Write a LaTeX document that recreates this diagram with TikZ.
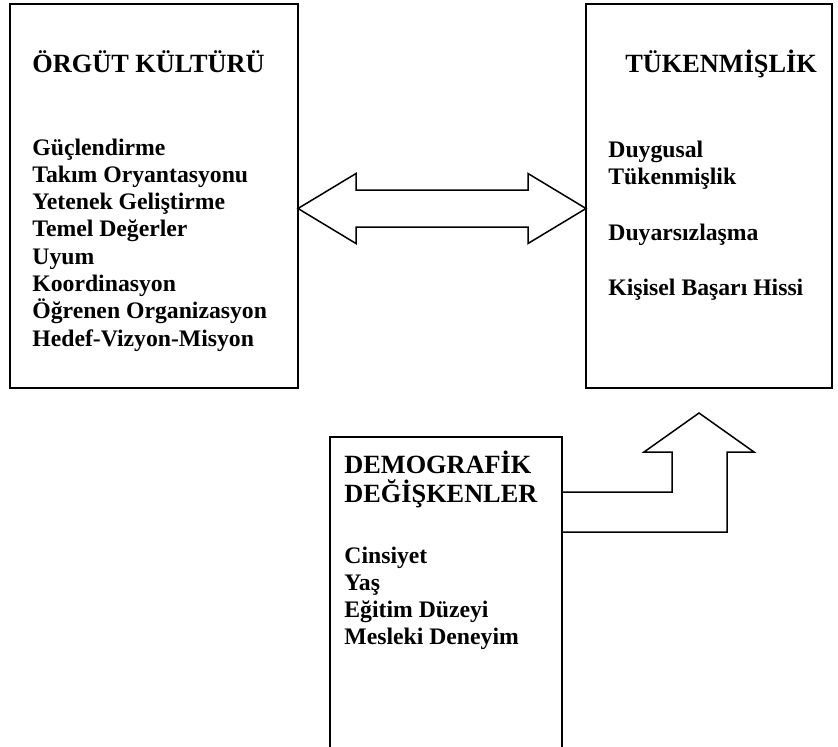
\documentclass[tikz,border=0pt]{standalone}
\usepackage{fontspec}
\setmainfont{Liberation Serif}
\newlength{\du}
\setlength{\du}{0.5pt}
\tikzset{
  kutu/.style={draw, line width=2\du, inner sep=0pt, outer sep=0pt, anchor=north west},
  yazi/.style={anchor=base west, inner sep=0pt, font=\bfseries\fontsize{11.85}{14}\selectfont},
  baslik/.style={anchor=base west, inner sep=0pt, font=\bfseries\fontsize{13.15}{16}\selectfont},
  blokok/.style={draw, line width=1.5\du, line join=miter},
}

\begin{document}
\begin{tikzpicture}
\pgftransformxscale{1.000000}
\pgftransformyscale{-1.000000}
\useasboundingbox (0\du,0\du) rectangle (838\du,746\du);
% orgut kulturu
\node[kutu, minimum width=288\du, minimum height=384\du] (kultur) at (10\du,4\du) {};
\node[baslik] (kulturBaslik) at (32\du,72\du) {ÖRGÜT KÜLTÜRÜ};
\foreach \ad [count=\i, evaluate=\i as \y using 155+(\i-1)*27.3] in
  {Güçlendirme, Takım Oryantasyonu, Yetenek Geliştirme, Temel Değerler,
   Uyum, Koordinasyon, Öğrenen Organizasyon, Hedef-Vizyon-Misyon}
  \node[yazi] (kultur-\i) at (32\du,\y\du) {\ad};
% tukenmislik
\node[kutu, minimum width=246\du, minimum height=384\du] (tukenme) at (586\du,4\du) {};
\node[baslik] (tukenmeBaslik) at (625\du,72\du) {TÜKENMİŞLİK};
\node[yazi] (tukenme-1) at (608\du,157\du) {Duygusal};
\node[yazi] (tukenme-2) at (608\du,184.7\du) {Tükenmişlik};
\node[yazi] (tukenme-3) at (608\du,240.1\du) {Duyarsızlaşma};
\node[yazi] (tukenme-4) at (608\du,295.5\du) {Kişisel Başarı Hissi};
% demografik degiskenler (alt kenar sayfanin disinda)
\node[kutu, minimum width=232\du, minimum height=340\du] (demog) at (330\du,437\du) {};
\node[baslik] (demogBaslik-1) at (344\du,473\du) {DEMOGRAFİK};
\node[baslik] (demogBaslik-2) at (344\du,502\du) {DEĞİŞKENLER};
\foreach \ad [count=\i, evaluate=\i as \y using 563+(\i-1)*27] in
  {Cinsiyet, Yaş, Eğitim Düzeyi, Mesleki Deneyim}
  \node[yazi] (demog-\i) at (344\du,\y\du) {\ad};
% cift yonlu ok
\coordinate (ciftSol) at (298\du,208.5\du);
\coordinate (ciftSag) at (586\du,208.5\du);
\draw[blokok] (ciftSol)--(356\du,173.5\du)--(356\du,190\du)--(528\du,190\du)--(528\du,173.5\du)
  --(ciftSag)--(528\du,243.5\du)--(528\du,227\du)--(356\du,227\du)--(356\du,243.5\du)--cycle;
% yukari ok
\coordinate (okUst) at (562\du,492\du);
\coordinate (okAlt) at (562\du,532\du);
\coordinate (okUc) at (699\du,413\du);
\draw[blokok] (okUst)--(672\du,492\du)--(672\du,452\du)--(644\du,452\du)--(okUc)
  --(754\du,452\du)--(727\du,452\du)--(727\du,532\du)--(okAlt);
\end{tikzpicture}
\end{document}
